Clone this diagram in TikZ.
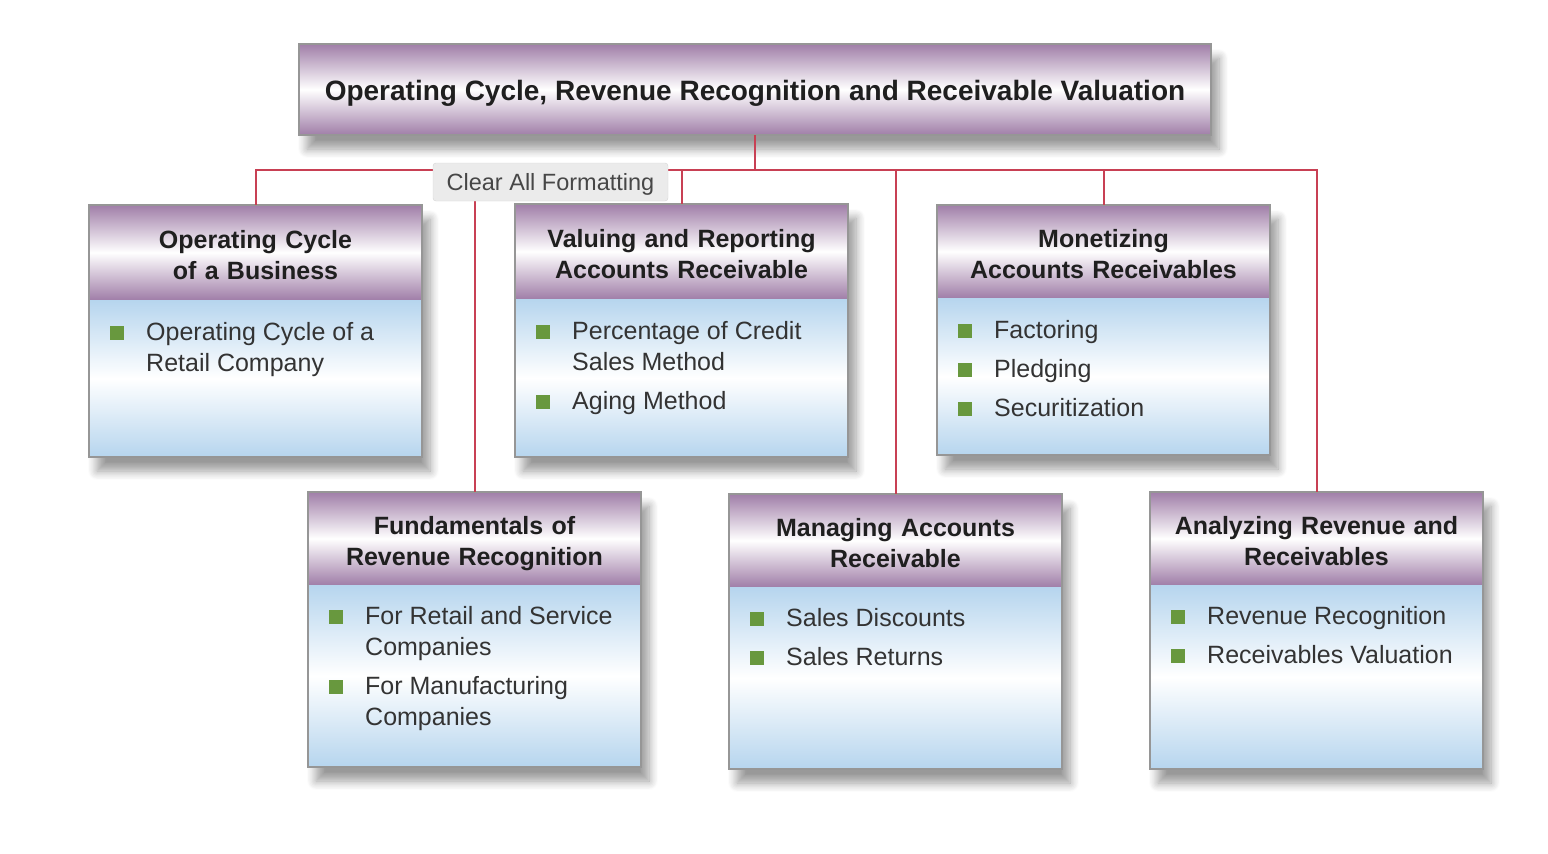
\documentclass[tikz,border=0pt]{standalone}
\usepackage{fontspec}
\setmainfont{Liberation Sans}
\usetikzlibrary{shadows.blur}
\definecolor{headpurple}{RGB}{160,126,168}
\definecolor{bodyblue}{RGB}{182,213,238}
\definecolor{linkred}{RGB}{200,64,84}
\definecolor{boxgray}{RGB}{150,150,150}
\definecolor{bulletgreen}{RGB}{104,152,62}
\newcommand{\sqbul}{\textcolor{bulletgreen}{\rule[1pt]{14pt}{14pt}}}
\tikzset{
  topic/.style={draw=boxgray, line width=1.5pt, outer sep=0pt, top color=headpurple, bottom color=headpurple, middle color=white,
    blur shadow={shadow xshift=8pt, shadow yshift=-14pt, shadow blur radius=9pt, shadow blur steps=8, shadow opacity=40},
    text height=21pt, text depth=0pt, text=black!88, font=\bfseries\fontsize{28}{34}\selectfont},
  boxframe/.style={anchor=north west, fill=white, outer sep=0pt, inner sep=0pt, minimum width=333,
    blur shadow={shadow xshift=8pt, shadow yshift=-14pt, shadow blur radius=9pt, shadow blur steps=8, shadow opacity=40}},
  headbox/.style={anchor=north west, outer sep=0pt, minimum width=333, minimum height=95, text width=320, align=center,
    text height=22pt, text depth=31pt,
    top color=headpurple, bottom color=headpurple, middle color=white,
    text=black!88, font=\bfseries\fontsize{25}{31}\selectfont},
  bodybox/.style={anchor=north west, outer sep=0pt, minimum width=333,
    top color=bodyblue, bottom color=bodyblue, middle color=white},
  outline/.style={draw=boxgray, line width=1.5pt},
  itemlist/.style={anchor=north west, inner sep=0pt, text=black!80, font=\fontsize{25}{31}\selectfont},
  link/.style={draw=linkred, line width=2pt},
  tipbox/.style={draw=black!17, fill=black!8, rounded corners=3pt, inner sep=0pt, minimum width=235, minimum height=38,
    text height=17pt, text depth=0pt, text=black!72, font=\fontsize{23.5}{28}\selectfont}
}
\begin{document}
\begin{tikzpicture}[x=1pt,y=-1pt]
\useasboundingbox (0,0) rectangle (1548,854);
% title
\node[topic, minimum width=912, minimum height=91] (top) at (755,89.5) {Operating Cycle, Revenue Recognition and Receivable Valuation};
\coordinate (bus) at (0,170);

% Operating Cycle of a Business
\node[boxframe, minimum height=252] (f1) at (89,205) {};
\node[headbox] (h1) at (f1.north west) {Operating Cycle\\of a Business};
\node[bodybox, minimum height=157] (b1) at (h1.south west) {};
\draw[outline] (f1.north west) rectangle (f1.south east);
\node[itemlist] (l1) at ([shift={(21pt,-19pt)}]b1.north west) {\begin{tabular}{@{}l@{\hspace{22pt}}l@{}}
  \sqbul & Operating Cycle of a\\ & Retail Company\end{tabular}};

% Valuing and Reporting Accounts Receivable
\node[boxframe, minimum height=253] (f2) at (515,204) {};
\node[headbox] (h2) at (f2.north west) {Valuing and Reporting\\Accounts Receivable};
\node[bodybox, minimum height=158] (b2) at (h2.south west) {};
\draw[outline] (f2.north west) rectangle (f2.south east);
\node[itemlist] (l2) at ([shift={(21pt,-19pt)}]b2.north west) {\begin{tabular}{@{}l@{\hspace{22pt}}l@{}}
  \sqbul & Percentage of Credit\\ & Sales Method\\[8pt]
  \sqbul & Aging Method\end{tabular}};

% Monetizing Accounts Receivables
\node[boxframe, minimum height=250] (f3) at (937,205) {};
\node[headbox, minimum height=93] (h3) at (f3.north west) {Monetizing\\Accounts Receivables};
\node[bodybox, minimum height=157] (b3) at (h3.south west) {};
\draw[outline] (f3.north west) rectangle (f3.south east);
\node[itemlist] (l3) at ([shift={(21pt,-19pt)}]b3.north west) {\begin{tabular}{@{}l@{\hspace{22pt}}l@{}}
  \sqbul & Factoring\\[8pt]
  \sqbul & Pledging\\[8pt]
  \sqbul & Securitization\end{tabular}};

% Fundamentals of Revenue Recognition
\node[boxframe, minimum height=275] (f4) at (308,492) {};
\node[headbox, minimum height=93] (h4) at (f4.north west) {Fundamentals of\\Revenue Recognition};
\node[bodybox, minimum height=182] (b4) at (h4.south west) {};
\draw[outline] (f4.north west) rectangle (f4.south east);
\node[itemlist] (l4) at ([shift={(21pt,-18pt)}]b4.north west) {\begin{tabular}{@{}l@{\hspace{22pt}}l@{}}
  \sqbul & For Retail and Service\\ & Companies\\[8pt]
  \sqbul & For Manufacturing\\ & Companies\end{tabular}};

% Managing Accounts Receivable
\node[boxframe, minimum height=275] (f5) at (729,494) {};
\node[headbox, minimum height=93] (h5) at (f5.north west) {Managing Accounts\\Receivable};
\node[bodybox, minimum height=182] (b5) at (h5.south west) {};
\draw[outline] (f5.north west) rectangle (f5.south east);
\node[itemlist] (l5) at ([shift={(21pt,-18pt)}]b5.north west) {\begin{tabular}{@{}l@{\hspace{22pt}}l@{}}
  \sqbul & Sales Discounts\\[8pt]
  \sqbul & Sales Returns\end{tabular}};

% Analyzing Revenue and Receivables
\node[boxframe, minimum height=277] (f6) at (1150,492) {};
\node[headbox, minimum height=93] (h6) at (f6.north west) {Analyzing Revenue and\\Receivables};
\node[bodybox, minimum height=184] (b6) at (h6.south west) {};
\draw[outline] (f6.north west) rectangle (f6.south east);
\node[itemlist] (l6) at ([shift={(21pt,-18pt)}]b6.north west) {\begin{tabular}{@{}l@{\hspace{22pt}}l@{}}
  \sqbul & Revenue Recognition\\[8pt]
  \sqbul & Receivables Valuation\end{tabular}};

% links
\foreach \h in {h1,h2,h3,h4,h5,h6}
  \draw[link] (top.south) -- (top.south |- bus) -| (\h.north);

\node[tipbox] (clr) at (550.5,182) {Clear All Formatting};
\end{tikzpicture}
\end{document}
